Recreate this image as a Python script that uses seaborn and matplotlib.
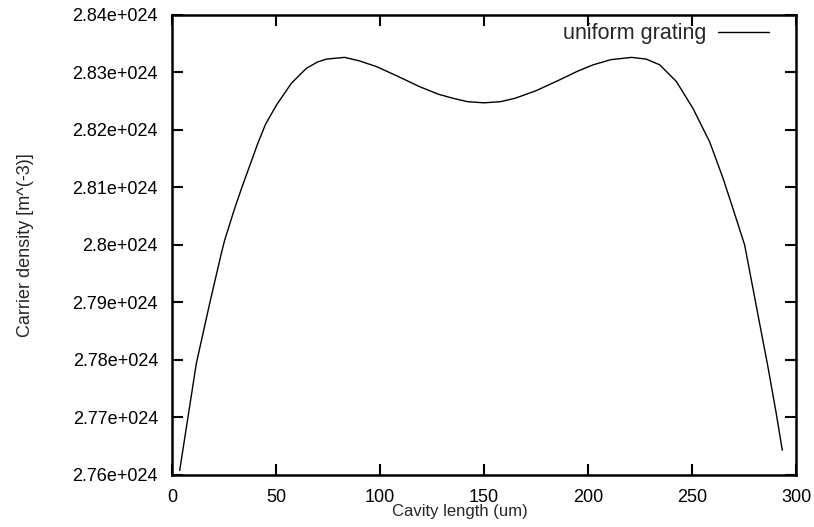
import matplotlib
matplotlib.use("Agg")
import matplotlib.pyplot as plt
import seaborn as sns
import pandas as pd

# Data
cavity_um = [3.7, 7.7, 11.7, 18.1, 23.7, 25.3, 30.0, 33.4, 41.3, 45.0, 50.2, 57.4, 64.6,
             70.0, 74.2, 83.0, 90.0, 98.3, 108.0, 119.1, 128.0, 135.0, 142.0, 150.0,
             158.0, 165.0, 175.0, 186.4, 195.0, 202.4, 211.0, 220.9, 228.0, 234.5, 242.5,
             250.5, 258.5, 264.9, 269.7, 275.3, 281.0, 286.5, 290.5, 293.4]
carrier = [2.7608, 2.7701, 2.7794, 2.7898, 2.7985, 2.8008, 2.8062, 2.8098, 2.8177, 2.8210,
           2.8243, 2.8281, 2.8307, 2.8318, 2.8323, 2.8326, 2.8320, 2.8310, 2.8294, 2.8275,
           2.8262, 2.8255, 2.8249, 2.8247, 2.8249, 2.8255, 2.8268, 2.8287, 2.8302, 2.8313,
           2.8322, 2.8326, 2.8323, 2.8313, 2.8284, 2.8237, 2.8179, 2.8116, 2.8063, 2.8000,
           2.7892, 2.7788, 2.7707, 2.7643]
series_name = "uniform grating"
x_ticks = [0, 50, 100, 150, 200, 250, 300]
y_ticks = [2.76, 2.77, 2.78, 2.79, 2.80, 2.81, 2.82, 2.83, 2.84]
y_tick_labels = ["2.76e+024", "2.77e+024", "2.78e+024", "2.79e+024", "2.8e+024",
                 "2.81e+024", "2.82e+024", "2.83e+024", "2.84e+024"]

sns.set_style("ticks")
plt.rcParams['font.family'] = ['Liberation Sans', 'DejaVu Sans']

df = pd.DataFrame({"x": cavity_um, "y": carrier, "series": series_name})

fig = plt.figure(figsize=(8.14, 5.27), dpi=100)
ax = fig.add_axes([0.2113, 0.0987, 0.7666, 0.8732])
sns.lineplot(data=df, x="x", y="y", hue="series", palette=["black"], linewidth=1.0, ax=ax)

ax.set_xlim(0, 300)
ax.set_ylim(2.76, 2.84)
ax.set_xticks(x_ticks)
ax.set_xticklabels([str(t) for t in x_ticks])
ax.set_yticks(y_ticks)
ax.set_yticklabels(y_tick_labels)
ax.tick_params(direction="in", length=8, width=1.5, top=True, right=True,
               labelsize=13, pad=10, colors="black")
for s in ax.spines.values():
    s.set_linewidth(1.8)
    s.set_color("black")
    s.set_visible(True)

ax.set_xlabel("Cavity length (um)", fontsize=12)
ax.xaxis.set_label_coords(0.461, -0.064)
ax.set_ylabel("Carrier density [m^(-3)]", fontsize=13, labelpad=28)

leg = ax.legend(loc="upper right", frameon=False, markerfirst=False, fontsize=15.5,
                handlelength=2.4, handletextpad=0.5, borderaxespad=0.0,
                bbox_to_anchor=(0.971, 1.0))
for h in leg.get_lines():
    h.set_linewidth(1.0)

fig.savefig("out.png", dpi=100)
